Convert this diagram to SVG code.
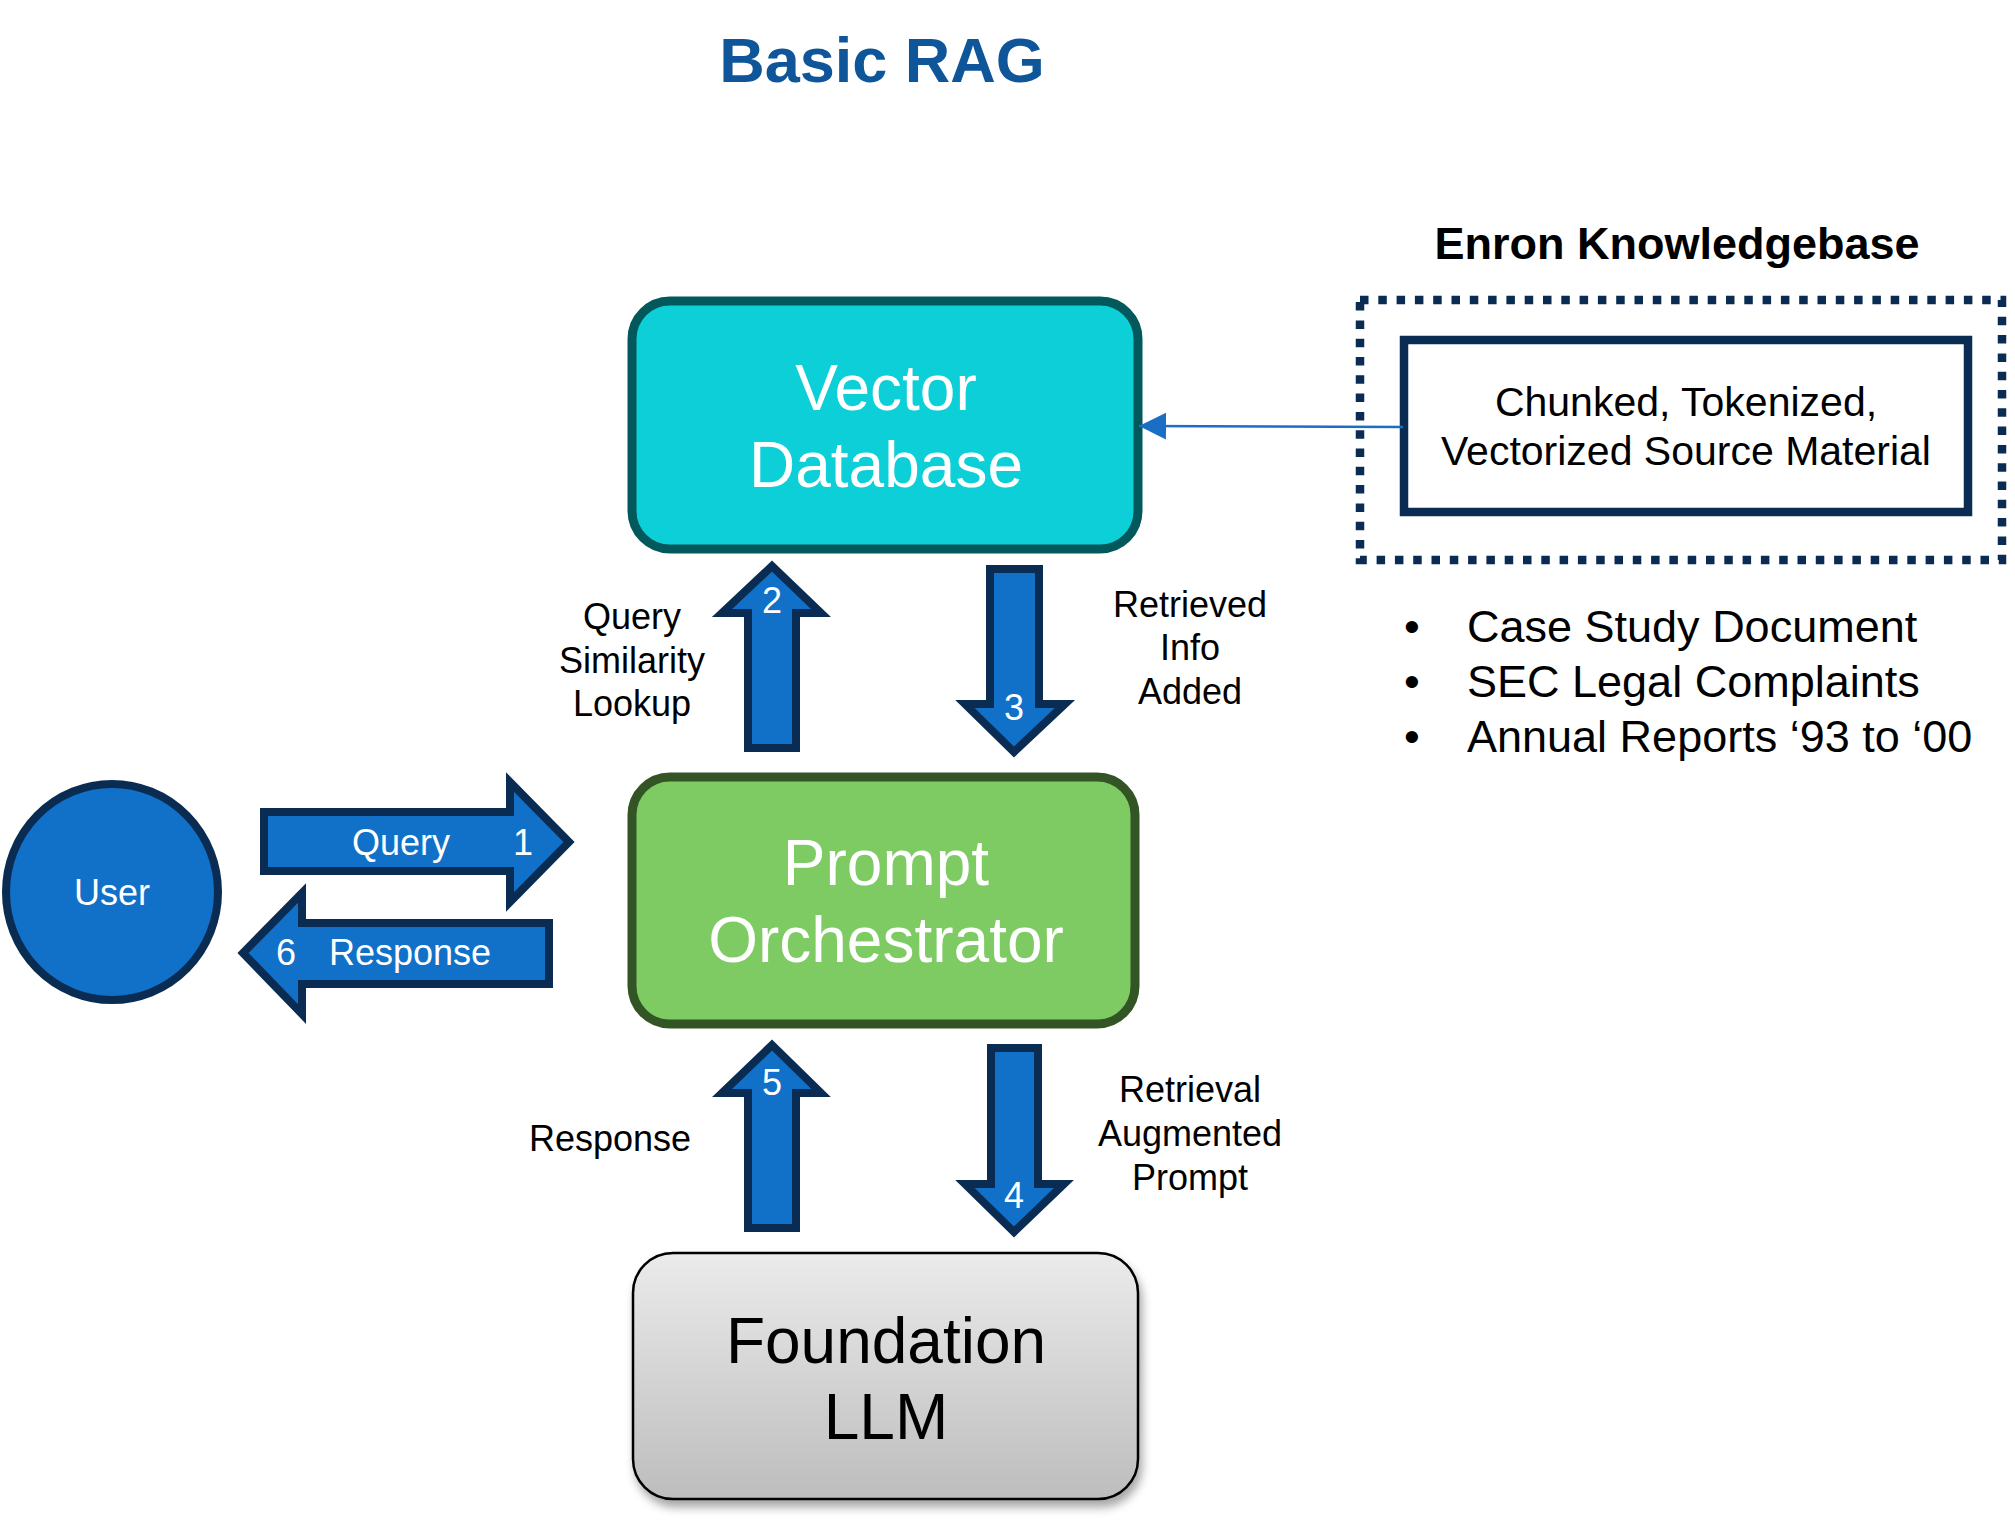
<svg xmlns="http://www.w3.org/2000/svg" width="2015" height="1524" viewBox="0 0 2015 1524">
<style>
  .lbl{font-family:"Liberation Sans",Arial,sans-serif;font-size:36px;fill:#000;text-anchor:middle}
  .wt{font-family:"Liberation Sans",Arial,sans-serif;fill:#fff;text-anchor:middle}
  .big{font-family:"Liberation Sans",Arial,sans-serif;font-size:64px;text-anchor:middle}
  .arr{fill:#1170C8;stroke:#0B2C52;stroke-width:8;stroke-linejoin:miter}
  .bul{font-family:"Liberation Sans",Arial,sans-serif;font-size:45px;fill:#000}
</style>
<defs>
  <linearGradient id="gray" x1="0" y1="0" x2="0" y2="1">
    <stop offset="0" stop-color="#EBEBEB"/>
    <stop offset="1" stop-color="#BDBDBD"/>
  </linearGradient>
  <filter id="shadow" x="-10%" y="-10%" width="130%" height="130%">
    <feDropShadow dx="3" dy="7" stdDeviation="5" flood-color="#000" flood-opacity="0.35"/>
  </filter>
  <marker id="ah" markerUnits="userSpaceOnUse" markerWidth="28" markerHeight="28" refX="27" refY="13.5" orient="auto">
    <path d="M0,0 L27,13.5 L0,27 z" fill="#1A6EC6"/>
  </marker>
</defs>
<rect width="2015" height="1524" fill="#fff"/>

<text x="882" y="82" font-family="Liberation Sans,Arial,sans-serif" font-size="63" font-weight="bold" fill="#0E559A" text-anchor="middle">Basic RAG</text>

<g id="vector-db">
  <rect x="632" y="301" width="506" height="248" rx="38" ry="38" fill="#0DCFD8" stroke="#03585B" stroke-width="9"/>
  <text class="big" fill="#fff" x="886" y="410">Vector</text>
  <text class="big" fill="#fff" x="886" y="487">Database</text>
</g>

<g id="prompt-orchestrator">
  <rect x="632" y="777" width="503" height="247" rx="38" ry="38" fill="#7DCB62" stroke="#335526" stroke-width="9"/>
  <text class="big" fill="#fff" x="886" y="885">Prompt</text>
  <text class="big" fill="#fff" x="886" y="962">Orchestrator</text>
</g>

<g id="foundation-llm">
  <rect x="633" y="1253" width="505" height="246" rx="40" ry="40" fill="url(#gray)" stroke="#000" stroke-width="2.5" filter="url(#shadow)"/>
  <text class="big" fill="#000" x="886" y="1363">Foundation</text>
  <text class="big" fill="#000" x="886" y="1439">LLM</text>
</g>

<g id="user">
  <ellipse cx="112" cy="892" rx="106" ry="108" fill="#1170C8" stroke="#0B2C52" stroke-width="8"/>
  <text class="wt" font-size="36" x="112" y="905">User</text>
</g>

<g id="knowledgebase">
  <text x="1677" y="259" font-family="Liberation Sans,Arial,sans-serif" font-size="45" font-weight="bold" fill="#000" text-anchor="middle">Enron Knowledgebase</text>
  <rect x="1360" y="300" width="642" height="260" fill="none" stroke="#0B2C52" stroke-width="8.5" stroke-dasharray="8.5 9.8"/>
  <g id="source-material">
    <rect x="1404" y="340" width="564" height="172" fill="#fff" stroke="#0B2C52" stroke-width="8.5"/>
    <text class="lbl" x="1686" y="416" style="font-size:41px">Chunked, Tokenized,</text>
    <text class="lbl" x="1686" y="465" style="font-size:41px">Vectorized Source Material</text>
  </g>
  <text class="bul" x="1412" y="642" text-anchor="middle">•</text>
  <text class="bul" x="1467" y="642">Case Study Document</text>
  <text class="bul" x="1412" y="697" text-anchor="middle">•</text>
  <text class="bul" x="1467" y="697">SEC Legal Complaints</text>
  <text class="bul" x="1412" y="752" text-anchor="middle">•</text>
  <text class="bul" x="1467" y="752">Annual Reports ‘93 to ‘00</text>
</g>

<g id="connectors">
  <line x1="1403" y1="427" x2="1139" y2="426" stroke="#1A6EC6" stroke-width="2.5" marker-end="url(#ah)"/>

  <g id="step1">
    <polygon class="arr" points="264,812 510,812 510,782 569,842 510,902 510,871 264,871"/>
    <text class="wt" font-size="36" x="401" y="855">Query</text>
    <text class="wt" font-size="36" x="523" y="855">1</text>
  </g>
  <g id="step6">
    <polygon class="arr" points="549,923 302,923 302,893 243,953 302,1014 302,984 549,984"/>
    <text class="wt" font-size="36" x="286" y="965">6</text>
    <text class="wt" font-size="36" x="410" y="965">Response</text>
  </g>
  <g id="step2">
    <polygon class="arr" points="748,748 748,613 722,613 772,566 821,613 796,613 796,748"/>
    <text class="wt" font-size="36" x="772" y="613">2</text>
  </g>
  <g id="step3">
    <polygon class="arr" points="990,569 1039,569 1039,704 1065,704 1014,752 965,704 990,704"/>
    <text class="wt" font-size="36" x="1014" y="720">3</text>
  </g>
  <g id="step5">
    <polygon class="arr" points="748,1228 748,1093 722,1093 772,1045 821,1093 796,1093 796,1228"/>
    <text class="wt" font-size="36" x="772" y="1095">5</text>
  </g>
  <g id="step4">
    <polygon class="arr" points="991,1048 1038,1048 1038,1184 1064,1184 1014,1232 965,1184 991,1184"/>
    <text class="wt" font-size="36" x="1014" y="1208">4</text>
  </g>

  <text class="lbl" x="632" y="629">Query</text>
  <text class="lbl" x="632" y="673">Similarity</text>
  <text class="lbl" x="632" y="716">Lookup</text>

  <text class="lbl" x="1190" y="617">Retrieved</text>
  <text class="lbl" x="1190" y="660">Info</text>
  <text class="lbl" x="1190" y="704">Added</text>

  <text class="lbl" x="610" y="1151">Response</text>

  <text class="lbl" x="1190" y="1102">Retrieval</text>
  <text class="lbl" x="1190" y="1146">Augmented</text>
  <text class="lbl" x="1190" y="1190">Prompt</text>
</g>
</svg>
